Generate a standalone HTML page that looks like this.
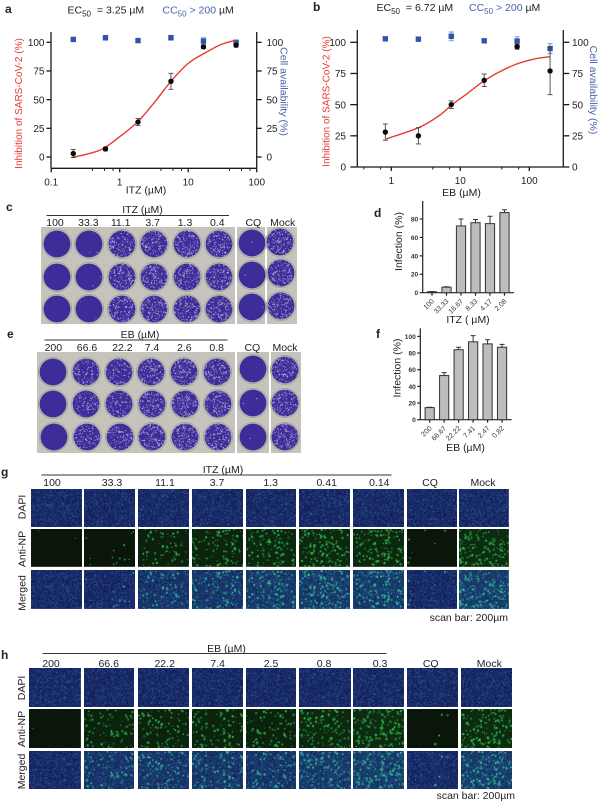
<!DOCTYPE html>
<html lang="en">
<head>
<meta charset="utf-8">
<title>Inhibition of SARS-CoV-2 by ITZ and EB</title>
<style>
html,body{margin:0;padding:0;background:#fff}
#page{position:relative;width:600px;height:803px;overflow:hidden;background:#fff;font-family:"Liberation Sans",sans-serif;filter:blur(0.35px)}
#page canvas{position:absolute;display:block}
.plate{position:absolute;background:#c6c3bc}
#overlay{position:absolute;left:0;top:0;width:600px;height:803px}
#overlay text{font-family:"Liberation Sans",sans-serif;fill:#222}
.panel{font-weight:700;font-size:12px;fill:#111}
.lab{font-size:10.5px}
.ttl{font-size:10px}
.tick{font-size:10px}
.rule{stroke:#333;stroke-width:1}
</style>
</head>
<body>
<div id="page">
<div id="images"></div>
<svg id="overlay" viewBox="0 0 600 803">
  <text class="panel" x="5" y="13">a</text>
  <text class="panel" x="313" y="11">b</text>
  <text class="panel" x="6" y="211">c</text>
  <text class="panel" x="374" y="217">d</text>
  <text class="panel" x="7" y="338">e</text>
  <text class="panel" x="376" y="338">f</text>
  <text class="panel" x="1" y="476">g</text>
  <text class="panel" x="1" y="659">h</text>

  <text class="lab" x="67.5" y="13.5">EC<tspan dy="3" font-size="8">50</tspan><tspan dy="-3" dx="3"> = 3.25 µM</tspan></text>
  <text class="lab" x="162.5" y="13.5"><tspan style="fill:#4a62a8">CC<tspan dy="3" font-size="8">50</tspan><tspan dy="-3"> &gt; 200 </tspan></tspan><tspan>µM</tspan></text>
  <text class="lab" x="376.5" y="11">EC<tspan dy="3" font-size="8">50</tspan><tspan dy="-3" dx="3"> = 6.72 µM</tspan></text>
  <text class="lab" x="469" y="11"><tspan style="fill:#4a62a8">CC<tspan dy="3" font-size="8">50</tspan><tspan dy="-3"> &gt; 200 </tspan></tspan><tspan>µM</tspan></text>

  <g id="chart-a"></g>
  <g id="chart-b"></g>
  <g id="chart-d"></g>
  <g id="chart-f"></g>

  <text class="ttl" transform="translate(22,103.5) rotate(-90)" text-anchor="middle" style="fill:#e8392f">Inhibition of SARS-CoV-2 (%)</text>
  <text class="lab" transform="translate(280.5,91.5) rotate(90)" text-anchor="middle" style="fill:#4a62a8">Cell availability (%)</text>
  <text class="lab" x="146" y="193.5" text-anchor="middle">ITZ (µM)</text>
  <text class="ttl" transform="translate(329.5,101.5) rotate(-90)" text-anchor="middle" style="fill:#e8392f">Inhibition of SARS-CoV-2 (%)</text>
  <text class="lab" transform="translate(590,90) rotate(90)" text-anchor="middle" style="fill:#4a62a8">Cell availability (%)</text>
  <text class="lab" x="461.5" y="196" text-anchor="middle">EB (µM)</text>

  <text class="lab" transform="translate(402,241.5) rotate(-90)" text-anchor="middle">Infection (%)</text>
  <text class="lab" x="468" y="323" text-anchor="middle">ITZ ( µM)</text>
  <text class="lab" transform="translate(400.5,368) rotate(-90)" text-anchor="middle">Infection (%)</text>
  <text class="lab" x="465.5" y="451" text-anchor="middle">EB (µM)</text>

  <text class="lab" x="142.5" y="213" text-anchor="middle">ITZ (µM)</text>
  <line class="rule" x1="46.5" x2="229" y1="215.5" y2="215.5"/>
  <text class="lab" x="140" y="338" text-anchor="middle">EB (µM)</text>
  <line class="rule" x1="44.5" x2="227.5" y1="340" y2="340"/>

  <text class="lab" x="223" y="473" text-anchor="middle">ITZ (µM)</text>
  <line class="rule" x1="41.5" x2="391.5" y1="475" y2="475"/>
  <text class="lab" x="226.5" y="652" text-anchor="middle">EB (µM)</text>
  <line class="rule" x1="42.5" x2="386.5" y1="653.5" y2="653.5"/>

  <text class="lab" x="508" y="621" text-anchor="end">scan bar: 200µm</text>
  <text class="lab" x="515" y="799" text-anchor="end">scan bar: 200µm</text>

  <g id="image-labels"></g>
</svg>
</div>

<script>
/* ---------- chart data ---------- */
const concA = [0.21, 0.62, 1.85, 5.6, 16.7, 50];
const inhibitionA = [3, 7, 30.5, 66, 96, 97.5];
const inhibitionErrA = [3.5, 1.5, 3, 7, 1.5, 1.5];
const viabilityA = [102.5, 104, 101.5, 104, 101, 100];
const viabilityErrA = [1, 2, 0.5, 2, 3, 1];
const fitConcA = [0.2, 0.516, 1, 1.85, 3.25, 5.6, 10, 16.7, 30, 50];
const fitValA = [-0.5, 6, 17.7, 31, 48, 66, 81.6, 90, 98, 102];
const xTicksA = [0.1, 1, 10, 100];
const xTickLabelsA = ['0.1', '1', '10', '100'];
const xMinorTicksA = [0.4, 0.6, 0.8, 4, 6, 8, 40, 60, 80];
const yTicksA = [0, 25, 50, 75, 100];

const concB = [0.82, 2.47, 7.4, 22.2, 66.6, 200];
const inhibitionB = [28, 25, 50, 69.5, 96.5, 77];
const inhibitionErrB = [6.5, 6.5, 3, 5, 2, 19];
const viabilityB = [102.8, 102.5, 104.8, 101.2, 101, 95];
const viabilityErrB = [1, 1, 3.5, 1, 3.5, 4];
const fitConcB = [0.84, 2.55, 5.07, 7.5, 12.4, 22, 37.6, 65.6, 114, 199];
const fitValB = [22.5, 31.8, 41.7, 49.7, 58.6, 69, 76.5, 82.6, 86.4, 88.5];
const xTicksB = [1, 10, 100];
const xTickLabelsB = ['1', '10', '100'];
const xMinorTicksB = [0.4, 0.7, 4, 7, 40, 70, 400];
const yTicksB = [0, 25, 50, 75, 100];

const categoriesD = ['100', '33.33', '16.67', '8.33', '4.17', '2.08'];
const valuesD = [1, 6, 72.5, 76, 75, 87];
const errorsD = [0.3, 0.5, 7.5, 3.5, 8, 3];
const yTicksD = [0, 20, 40, 60, 80];

const categoriesF = ['200', '66.67', '22.22', '7.41', '2.47', '0.82'];
const valuesF = [14.5, 53, 84, 93.5, 91, 87];
const errorsF = [0.5, 3.5, 3, 7.5, 5, 3.5];
const yTicksF = [0, 20, 40, 60, 80, 100];

/* ---------- svg helpers ---------- */
const NS = 'http://www.w3.org/2000/svg';
function shape(parent, tag, attrs, text) {
  const el = document.createElementNS(NS, tag);
  for (const k in attrs) el.setAttribute(k, attrs[k]);
  if (text !== undefined) el.textContent = text;
  parent.appendChild(el);
  return el;
}
function smoothPath(pts) {
  let d = 'M' + pts[0][0].toFixed(2) + ' ' + pts[0][1].toFixed(2);
  for (let i = 0; i < pts.length - 1; i++) {
    const p0 = pts[i - 1] || pts[i], p1 = pts[i], p2 = pts[i + 1], p3 = pts[i + 2] || p2;
    d += 'C' + (p1[0] + (p2[0] - p0[0]) / 6).toFixed(2) + ' ' + (p1[1] + (p2[1] - p0[1]) / 6).toFixed(2) + ' '
      + (p2[0] - (p3[0] - p1[0]) / 6).toFixed(2) + ' ' + (p2[1] - (p3[1] - p1[1]) / 6).toFixed(2) + ' '
      + p2[0].toFixed(2) + ' ' + p2[1].toFixed(2);
  }
  return d;
}

/* ---------- dose-response charts ---------- */
function drawDose(g, o) {
  const x = c => o.x1 + o.decade * Math.log10(c);
  const y = v => o.y0 - o.unit * v;
  const axisStyle = {stroke: '#1a1a1a', 'stroke-width': 1.3, fill: 'none'};

  const leftAxis = shape(g, 'line', Object.assign({x1: o.left, x2: o.left, y1: o.top, y2: o.bottom}, axisStyle));
  
  
  const rightAxis = shape(g, 'line', Object.assign({x1: o.right, x2: o.right, y1: o.top, y2: o.bottom}, axisStyle));
  
  
  const bottomAxis = shape(g, 'line', Object.assign({x1: o.left, x2: o.right, y1: o.bottom, y2: o.bottom}, axisStyle));
  
  

  o.yTicks.forEach(v => {
    const tl = shape(g, 'line', Object.assign({x1: o.left - o.tickL, x2: o.left, y1: y(v), y2: y(v)}, axisStyle));
    
    
    const tr = shape(g, 'line', Object.assign({x1: o.right, x2: o.right + o.tickR, y1: y(v), y2: y(v)}, axisStyle));
    
    
    const ll = shape(g, 'text', {x: o.leftLabelX, y: y(v) + 3.6, 'text-anchor': 'end', class: 'tick'}, String(v));
    
    
    const lr = shape(g, 'text', {x: o.rightLabelX, y: y(v) + 3.6, class: 'tick'}, String(v));
    
    
  });
  o.xTicks.forEach((c, i) => {
    const t = shape(g, 'line', Object.assign({x1: x(c), x2: x(c), y1: o.bottom, y2: o.bottom + 4}, axisStyle));
    
    
    const l = shape(g, 'text', {x: x(c), y: o.bottom + 17, 'text-anchor': 'middle', class: 'tick'}, o.xLabels[i]);
    
    
  });
  o.xMinor.forEach(c => {
    if (x(c) < o.left || x(c) > o.right) return;
    const t = shape(g, 'line', Object.assign({x1: x(c), x2: x(c), y1: o.bottom, y2: o.bottom + 2.5}, axisStyle, {'stroke-width': 1}));
    
    
  });

  /* cell availability series */
  o.conc.forEach((c, i) => {
    const e = shape(g, 'path', {
      d: 'M' + (x(c) - 2.5) + ' ' + y(o.via[i] + o.viaErr[i]) + 'h5M' + x(c) + ' ' + y(o.via[i] + o.viaErr[i]) + 'V' + y(o.via[i] - o.viaErr[i]) + 'M' + (x(c) - 2.5) + ' ' + y(o.via[i] - o.viaErr[i]) + 'h5',
      stroke: '#8fa3d2', 'stroke-width': 1.2, fill: 'none'
    });
    
    
    const m = shape(g, 'rect', {x: x(c) - 2.7, y: y(o.via[i]) - 2.7, width: 5.4, height: 5.4, fill: '#2f55ab'});
    
    
  });

  /* fitted curve */
  const fit = shape(g, 'path', {d: smoothPath(o.fitC.map((c, i) => [x(c), y(o.fitV[i])])), stroke: '#e8392f', 'stroke-width': 1.4, fill: 'none'});
  
  

  /* inhibition series */
  o.conc.forEach((c, i) => {
    const e = shape(g, 'path', {
      d: 'M' + (x(c) - 2.5) + ' ' + y(o.inh[i] + o.inhErr[i]) + 'h5M' + x(c) + ' ' + y(o.inh[i] + o.inhErr[i]) + 'V' + y(o.inh[i] - o.inhErr[i]) + 'M' + (x(c) - 2.5) + ' ' + y(o.inh[i] - o.inhErr[i]) + 'h5',
      stroke: '#444', 'stroke-width': 0.9, fill: 'none'
    });
    
    
    const m = shape(g, 'circle', {cx: x(c), cy: y(o.inh[i]), r: 2.7, fill: '#0a0a0a'});
    
    
  });
}

drawDose(document.getElementById('chart-a'), {
  conc: concA, inh: inhibitionA, inhErr: inhibitionErrA, via: viabilityA, viaErr: viabilityErrA,
  fitC: fitConcA, fitV: fitValA, xTicks: xTicksA, xLabels: xTickLabelsA, xMinor: xMinorTicksA, yTicks: yTicksA,
  x1: 119.7, decade: 68.5, y0: 157, unit: 1.147, left: 51, right: 256.7, top: 32, bottom: 168.3,
  tickL: 4.5, tickR: 5, leftLabelX: 44.5, rightLabelX: 266.5
});
drawDose(document.getElementById('chart-b'), {
  conc: concB, inh: inhibitionB, inhErr: inhibitionErrB, via: viabilityB, viaErr: viabilityErrB,
  fitC: fitConcB, fitV: fitValB, xTicks: xTicksB, xLabels: xTickLabelsB, xMinor: xMinorTicksB, yTicks: yTicksB,
  x1: 391.3, decade: 69, y0: 167, unit: 1.247, left: 357.3, right: 563.3, top: 30, bottom: 167,
  tickL: 7, tickR: 6, leftLabelX: 346, rightLabelX: 572
});

/* ---------- bar charts ---------- */
function drawBars(g, o) {
  const x = i => o.firstBar + o.step * i;
  const y = v => o.y0 - o.unit * v;
  const axisStyle = {stroke: '#222', 'stroke-width': 1.2, fill: 'none'};

  const ya = shape(g, 'line', Object.assign({x1: o.left, x2: o.left, y1: o.top, y2: o.y0}, axisStyle));
  
  
  const xa = shape(g, 'line', Object.assign({x1: o.left, x2: o.right, y1: o.y0, y2: o.y0}, axisStyle));
  
  

  o.yTicks.forEach(v => {
    const t = shape(g, 'line', Object.assign({x1: o.left - 3, x2: o.left, y1: y(v), y2: y(v)}, axisStyle));
    
    
    const l = shape(g, 'text', {x: o.left - 4.5, y: y(v) + 2.4, 'text-anchor': 'end', style: 'font-size:6.6px;font-weight:700;fill:#333'}, String(v));
    
    
  });
  o.cats.forEach((cat, i) => {
    const top = y(o.vals[i] + o.errs[i]);
    const e = shape(g, 'path', {d: 'M' + (x(i) - 2.5) + ' ' + top + 'h5M' + x(i) + ' ' + top + 'V' + y(o.vals[i]), stroke: '#333', 'stroke-width': 1, fill: 'none'});
    
    
    const b = shape(g, 'rect', {x: x(i) - 4.6, y: y(o.vals[i]), width: 9.2, height: o.y0 - y(o.vals[i]), fill: '#bdbdbd', stroke: '#333', 'stroke-width': 1});
    
    
    const t = shape(g, 'line', Object.assign({x1: x(i), x2: x(i), y1: o.y0, y2: o.y0 + 3}, axisStyle));
    
    
    const l = shape(g, 'text', {transform: 'translate(' + (x(i) + 2.5) + ',' + (o.y0 + 9) + ') rotate(-45)', 'text-anchor': 'end', style: 'font-size:7px;fill:#333'}, cat);
    
    
  });
}
drawBars(document.getElementById('chart-d'), {
  cats: categoriesD, vals: valuesD, errs: errorsD, yTicks: yTicksD,
  firstBar: 432, step: 14.5, left: 422.7, right: 514, top: 201, y0: 292.7, unit: 0.921
});
drawBars(document.getElementById('chart-f'), {
  cats: categoriesF, vals: valuesF, errs: errorsF, yTicks: yTicksF,
  firstBar: 429.7, step: 14.47, left: 420.3, right: 511.7, top: 328.3, y0: 419.7, unit: 0.833
});

/* ---------- plate and microscopy textures (photographic imagery, not chart data) ---------- */
function rng(seed) {
  return function () {
    seed |= 0; seed = seed + 0x6D2B79F5 | 0;
    let t = Math.imul(seed ^ seed >>> 15, 1 | seed);
    t = t + Math.imul(t ^ t >>> 7, 61 | t) ^ t;
    return ((t ^ t >>> 14) >>> 0) / 4294967296;
  };
}
const images = document.getElementById('images');
const labels = document.getElementById('image-labels');

function drawWell(cx, cy, density, seed) {
  const size = 32;
  const c = document.createElement('canvas');
  
  
  c.width = size * 2; c.height = size * 2;
  c.style.cssText = 'left:' + (cx - size / 2) + 'px;top:' + (cy - size / 2) + 'px;width:' + size + 'px;height:' + size + 'px';
  const g = c.getContext('2d');
  g.scale(2, 2);
  const r = rng(seed), m = size / 2, R = 13.4;
  g.beginPath(); g.arc(m, m, 14.8, 0, 7); g.fillStyle = '#b9b6b0'; g.fill();
  g.strokeStyle = '#8f8c85'; g.lineWidth = 0.4; g.stroke();
  g.beginPath(); g.arc(m, m, R, 0, 7); g.fillStyle = '#3d2d98'; g.fill();
  g.save(); g.clip();
  const n = Math.round(density * 190);
  for (let i = 0; i < n; i++) {
    const a = r() * 6.283, d = R * Math.sqrt(r());
    g.beginPath();
    g.arc(m + Math.cos(a) * d, m + Math.sin(a) * d, 0.3 + r() * 0.45, 0, 7);
    g.fillStyle = 'rgba(195,183,228,' + (0.5 + r() * 0.35) + ')';
    g.fill();
  }
  g.restore();
  images.appendChild(c);
}
function drawPlate(x, y, w, h, name) {
  const d = document.createElement('div');
  d.className = 'plate';
  
  
  d.style.cssText = 'left:' + x + 'px;top:' + y + 'px;width:' + w + 'px;height:' + h + 'px';
  images.appendChild(d);
}
function plateLabel(text, x, y) {
  const t = shape(labels, 'text', {x: x, y: y, 'text-anchor': 'middle', class: 'lab'}, text);
  
  
}

/* panel c */
drawPlate(41.3, 226.7, 194, 97.5, 'plate-itz');
drawPlate(236.5, 226.7, 28.7, 97.5, 'plate-cq-c');
drawPlate(266.7, 226.7, 30, 97.5, 'plate-mock-c');
[[170,267,365,463,561,658]].forEach(xs => xs.forEach((zx, ci) => {
  const dens = [0, 0.015, 0.75, 0.85, 0.8, 0.8][ci];
  [148, 245, 343].forEach((zy, ri) => drawWell(zx / 3, 195 + zy / 3, dens, 100 + ci * 10 + ri));
}));
[143, 240, 337].forEach((zy, ri) => drawWell(755 / 3, 195 + zy / 3, 0.01, 300 + ri));
[[840,140],[842,235],[843,332]].forEach((p, ri) => drawWell(p[0] / 3, 195 + p[1] / 3, 0.8, 310 + ri));
['100','33.3','11.1','3.7','1.3','0.4'].forEach((t, i) => plateLabel(t, [165,265,362,458,555,652][i] / 3, 226));
plateLabel('CQ', 760 / 3, 226);
plateLabel('Mock', 848 / 3, 226);

/* panel e */
drawPlate(36.7, 352.3, 198.5, 100.5, 'plate-eb');
drawPlate(237.3, 352.3, 31.7, 100.5, 'plate-cq-e');
drawPlate(271, 352.3, 30, 100.5, 'plate-mock-e');
[155, 253, 351].forEach((zy, ri) => {
  [158,257,356,454,553,652].forEach((zx, ci) => {
    const dens = [0, 0.55, 0.6, 0.85, 0.85, 0.8][ci];
    drawWell((zx + ri * 1.5) / 3, 320 + zy / 3, dens, 400 + ci * 10 + ri);
  });
});
[147, 248, 350].forEach((zy, ri) => drawWell(760 / 3, 320 + zy / 3, 0.01, 500 + ri));
[150, 250, 350].forEach((zy, ri) => drawWell(855 / 3, 320 + zy / 3, 0.75, 510 + ri));
['200','66.6','22.2','7.4','2.6','0.8'].forEach((t, i) => plateLabel(t, [160,261,367,456,553,650][i] / 3, 351));
plateLabel('CQ', 757 / 3, 351);
plateLabel('Mock', 855 / 3, 351);

/* panels g and h */
function drawTile(x, y, w, h, kind, density, seed, name) {
  const c = document.createElement('canvas');
  
  
  c.width = Math.round(w * 2); c.height = Math.round(h * 2);
  c.style.cssText = 'left:' + x + 'px;top:' + y + 'px;width:' + w + 'px;height:' + h + 'px';
  const g = c.getContext('2d');
  g.scale(2, 2);
  g.fillStyle = kind === 'np' ? '#0a160a' : '#182a66';
  g.fillRect(0, 0, w, h);

  if (kind !== 'np') {
    const r = rng(seed);
    for (let i = 0; i < 800; i++) {
      const b = r();
      g.fillStyle = b > 0.5 ? 'rgba(60,105,200,.6)' : 'rgba(8,16,48,.55)';
      g.fillRect(r() * w, r() * h, 0.9, 0.9);
    }
  }
  if (kind !== 'dapi') {
    const r = rng(seed + 7);
    if (kind === 'np' && density > 0.1) {
      g.fillStyle = 'rgba(20,100,35,' + (0.22 * density + 0.04) + ')';
      g.fillRect(0, 0, w, h);
    }
    if (kind === 'merged' && density > 0.1) {
      g.fillStyle = 'rgba(25,130,130,' + (0.18 * density) + ')';
      g.fillRect(0, 0, w, h);
    }
    const n = Math.round(density * 140);
    for (let i = 0; i < n; i++) {
      const px = r() * w, py = r() * h, rad = 0.55 + r() * 0.8, al = 0.4 + r() * 0.45;
      g.fillStyle = kind === 'np' ? 'rgba(50,190,80,' + al + ')' : 'rgba(50,195,145,' + al + ')';
      g.beginPath(); g.arc(px, py, rad, 0, 7); g.fill();
    }
  }
  images.appendChild(c);
}
function drawGrid(opt) {
  opt.cols.forEach((col, ci) => {
    opt.rows.forEach((row, ri) => {
      drawTile(col[0], row[0], col[1] - col[0], row[1] - row[0], opt.kinds[ri], opt.density[ci], opt.seed + ci * 13, opt.kinds[ri] + '-image-' + opt.names[ci]);
    });
    const t = shape(labels, 'text', {x: opt.labelX[ci], y: opt.labelY, 'text-anchor': 'middle', class: 'lab'}, opt.names[ci]);
    
    
  });
  opt.rowNames.forEach((nm, ri) => {
    const t = shape(labels, 'text', {transform: 'translate(' + opt.rowLabelX + ',' + opt.rowLabelY[ri] + ') rotate(-90)', 'text-anchor': 'middle', class: 'lab'}, nm);
    
    
  });
}
drawGrid({
  cols: [[30.7,81.7],[84,135],[138.3,189.3],[192,242.7],[245.7,296.3],[299,350],[353,404],[406.7,456.7],[459,509.3]],
  rows: [[489,526.7],[529,567.3],[570.3,608.7]],
  kinds: ['dapi','np','merged'],
  density: [0.012,0.09,0.5,0.65,0.8,0.95,0.95,0.05,1.05],
  names: ['100','33.3','11.1','3.7','1.3','0.41','0.14','CQ','Mock'],
  labelX: [52,112,165,217,270.7,326.7,379.3,430,483], labelY: 486,
  rowNames: ['DAPI','Anti-NP','Merged'], rowLabelX: 25.5, rowLabelY: [507,549,593], seed: 1000
});
drawGrid({
  cols: [[29.3,80.7],[83.7,134.3],[137.7,188.7],[192,242.7],[245.7,296.3],[299,350.7],[353.3,404],[407,458],[461.3,512.3]],
  rows: [[668.3,707],[709.3,748],[750.7,789.3]],
  kinds: ['dapi','np','merged'],
  density: [0.006,0.6,0.65,0.65,0.6,0.85,1.05,0.03,1.05],
  names: ['200','66.6','22.2','7.4','2.5','0.8','0.3','CQ','Mock'],
  labelX: [51,108.7,164.7,217.7,271,324,380,430.7,489.3], labelY: 667,
  rowNames: ['DAPI','Anti-NP','Merged'], rowLabelX: 25, rowLabelY: [688,729,771.5], seed: 2000
});
</script>
</body>
</html>
